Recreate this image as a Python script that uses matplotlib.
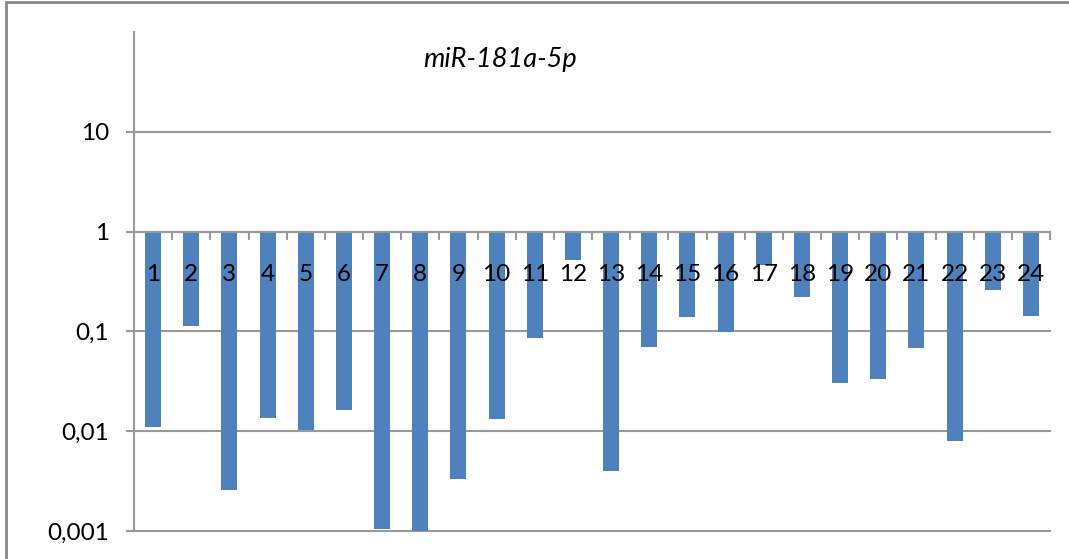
import numpy as np
import matplotlib.pyplot as plt
from matplotlib.patches import Rectangle

# miR-181a-5p relative expression per sample (log scale)
samples = [str(i) for i in range(1, 25)]
values = [0.0111, 0.114, 0.00257, 0.0136, 0.0103, 0.0163, 0.00105, 0.00098,
          0.00333, 0.0132, 0.0857, 0.518, 0.00401, 0.0697, 0.139, 0.099,
          0.461, 0.222, 0.0305, 0.0335, 0.0685, 0.0080, 0.261, 0.143]
yticks = [0.001, 0.01, 0.1, 1, 10]
ytick_labels = ['0,001', '0,01', '0,1', '1', '10']
title = 'miR-181a-5p'

plt.rcParams['font.family'] = ['Lato', 'DejaVu Sans']
grey = '#9a9a9a'
blue = '#4f81bd'

W, H = 1069, 559
fig = plt.figure(figsize=(W / 100, H / 100), dpi=100)
ax = fig.add_axes([134 / W, 1 - 531 / H, (1050 - 134) / W, (531 - 32) / H])
ax.set_axisbelow(False)  # labels on top of bars, like Excel

x = np.arange(len(samples))
vals = np.array(values)
ax.bar(x, vals - 1, bottom=1, width=0.42, color=blue, zorder=1.2)

ax.set_yscale('log')
ax.set_ylim(0.001, 100)
ax.set_xlim(-0.5, len(samples) - 0.5)

# gridlines behind bars
for t in yticks:
    ax.axhline(t, color=grey, lw=1.5, zorder=0.5, clip_on=False)

ax.set_yticks(yticks)
ax.set_yticklabels(ytick_labels)
ax.yaxis.set_minor_locator(plt.NullLocator())
ax.tick_params(axis='y', which='major', length=6, width=1.5, color=grey,
               labelsize=17.5, pad=12)

# category axis crosses at 1
ax.spines['bottom'].set_position(('data', 1))
ax.spines['bottom'].set_color(grey)
ax.spines['bottom'].set_linewidth(1.5)
ax.spines['left'].set_color(grey)
ax.spines['left'].set_linewidth(1.5)
ax.spines['top'].set_visible(False)
ax.spines['right'].set_visible(False)

ax.set_xticks(np.arange(len(samples) + 1) - 0.5)
ax.set_xticklabels([])
ax.set_xticks(x, minor=True)
ax.set_xticklabels(samples, minor=True)
ax.tick_params(axis='x', which='major', length=6, width=1.5, color=grey)
ax.tick_params(axis='x', which='minor', length=0, labelsize=17.5, pad=23)

fig.text(500 / W, 1 - 60 / H, title, fontsize=19.5, style='italic',
         ha='center', va='center')

# chart border (only top and left visible in the crop)
fig.add_artist(Rectangle((6 / W, -0.1), 1.2, 1 - 2 / H + 0.1,
                         transform=fig.transFigure, fill=False,
                         edgecolor='#868686', lw=2))

fig.savefig('out.png', dpi=100)
